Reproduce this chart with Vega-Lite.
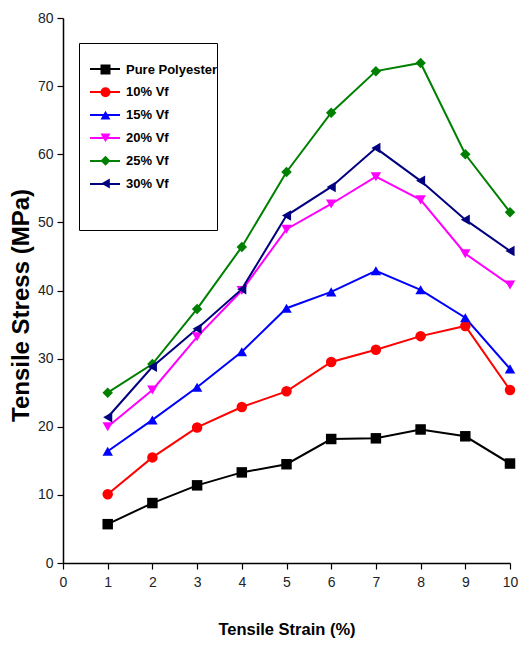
{
  "$schema": "https://vega.github.io/schema/vega-lite/v6.json",
  "width": 447,
  "height": 545,
  "autosize": {"type": "none"},
  "padding": {"left": 63, "top": 18, "right": 8, "bottom": 83},
  "background": "white",
  "config": {
    "view": {"stroke": null},
    "font": "Liberation Sans",
    "axis": {
      "grid": false,
      "domainColor": "black",
      "domainWidth": 1.5,
      "tickColor": "black",
      "tickWidth": 1.2,
      "tickSize": 6,
      "labelColor": "#222222",
      "labelFont": "Liberation Sans",
      "labelFontSize": 14,
      "titleFont": "Liberation Sans",
      "titleFontWeight": "bold",
      "titleColor": "black"
    }
  },
  "data": {
    "values": [
      {"x": 1, "y": 5.7, "series": "Pure Polyester"},
      {"x": 2, "y": 8.8, "series": "Pure Polyester"},
      {"x": 3, "y": 11.4, "series": "Pure Polyester"},
      {"x": 4, "y": 13.3, "series": "Pure Polyester"},
      {"x": 5, "y": 14.5, "series": "Pure Polyester"},
      {"x": 6, "y": 18.2, "series": "Pure Polyester"},
      {"x": 7, "y": 18.3, "series": "Pure Polyester"},
      {"x": 8, "y": 19.6, "series": "Pure Polyester"},
      {"x": 9, "y": 18.6, "series": "Pure Polyester"},
      {"x": 10, "y": 14.6, "series": "Pure Polyester"},
      {"x": 1, "y": 10.1, "series": "10% Vf"},
      {"x": 2, "y": 15.5, "series": "10% Vf"},
      {"x": 3, "y": 19.9, "series": "10% Vf"},
      {"x": 4, "y": 22.9, "series": "10% Vf"},
      {"x": 5, "y": 25.2, "series": "10% Vf"},
      {"x": 6, "y": 29.5, "series": "10% Vf"},
      {"x": 7, "y": 31.3, "series": "10% Vf"},
      {"x": 8, "y": 33.3, "series": "10% Vf"},
      {"x": 9, "y": 34.8, "series": "10% Vf"},
      {"x": 10, "y": 25.4, "series": "10% Vf"},
      {"x": 1, "y": 16.4, "series": "15% Vf"},
      {"x": 2, "y": 21.0, "series": "15% Vf"},
      {"x": 3, "y": 25.8, "series": "15% Vf"},
      {"x": 4, "y": 31.0, "series": "15% Vf"},
      {"x": 5, "y": 37.4, "series": "15% Vf"},
      {"x": 6, "y": 39.8, "series": "15% Vf"},
      {"x": 7, "y": 42.9, "series": "15% Vf"},
      {"x": 8, "y": 40.1, "series": "15% Vf"},
      {"x": 9, "y": 36.0, "series": "15% Vf"},
      {"x": 10, "y": 28.5, "series": "15% Vf"},
      {"x": 1, "y": 20.0, "series": "20% Vf"},
      {"x": 2, "y": 25.4, "series": "20% Vf"},
      {"x": 3, "y": 33.2, "series": "20% Vf"},
      {"x": 4, "y": 40.0, "series": "20% Vf"},
      {"x": 5, "y": 49.0, "series": "20% Vf"},
      {"x": 6, "y": 52.7, "series": "20% Vf"},
      {"x": 7, "y": 56.7, "series": "20% Vf"},
      {"x": 8, "y": 53.3, "series": "20% Vf"},
      {"x": 9, "y": 45.4, "series": "20% Vf"},
      {"x": 10, "y": 40.8, "series": "20% Vf"},
      {"x": 1, "y": 25.0, "series": "25% Vf"},
      {"x": 2, "y": 29.2, "series": "25% Vf"},
      {"x": 3, "y": 37.3, "series": "25% Vf"},
      {"x": 4, "y": 46.4, "series": "25% Vf"},
      {"x": 5, "y": 57.4, "series": "25% Vf"},
      {"x": 6, "y": 66.1, "series": "25% Vf"},
      {"x": 7, "y": 72.2, "series": "25% Vf"},
      {"x": 8, "y": 73.4, "series": "25% Vf"},
      {"x": 9, "y": 60.0, "series": "25% Vf"},
      {"x": 10, "y": 51.5, "series": "25% Vf"},
      {"x": 1, "y": 21.4, "series": "30% Vf"},
      {"x": 2, "y": 28.8, "series": "30% Vf"},
      {"x": 3, "y": 34.4, "series": "30% Vf"},
      {"x": 4, "y": 40.2, "series": "30% Vf"},
      {"x": 5, "y": 51.0, "series": "30% Vf"},
      {"x": 6, "y": 55.2, "series": "30% Vf"},
      {"x": 7, "y": 60.9, "series": "30% Vf"},
      {"x": 8, "y": 56.1, "series": "30% Vf"},
      {"x": 9, "y": 50.4, "series": "30% Vf"},
      {"x": 10, "y": 45.8, "series": "30% Vf"}
    ]
  },
  "encoding": {
    "x": {
      "field": "x",
      "type": "quantitative",
      "scale": {"domain": [0, 10], "nice": false, "zero": false},
      "axis": {
        "values": [0, 1, 2, 3, 4, 5, 6, 7, 8, 9, 10],
        "title": "Tensile Strain (%)",
        "titleFontSize": 16.5,
        "titlePadding": 32,
        "labelPadding": 6,
        "labelFlush": false
      }
    },
    "y": {
      "field": "y",
      "type": "quantitative",
      "scale": {"domain": [0, 80], "nice": false},
      "axis": {
        "values": [0, 10, 20, 30, 40, 50, 60, 70, 80],
        "title": "Tensile Stress (MPa)",
        "titleFontSize": 24,
        "titlePadding": 4,
        "titleY": 287,
        "labelPadding": 4
      }
    }
  },
  "layer": [
    {
      "mark": {"type": "line", "strokeWidth": 2},
      "encoding": {
        "color": {
          "field": "series",
          "type": "nominal",
          "scale": {
            "domain": ["Pure Polyester", "10% Vf", "15% Vf", "20% Vf", "25% Vf", "30% Vf"],
            "range": ["#000000", "#ff0000", "#0000ff", "#ff00ff", "#008000", "#000080"]
          },
          "legend": {
            "orient": "none",
            "legendX": 16,
            "legendY": 25,
            "padding": 10,
            "strokeColor": "black",
            "symbolType": "stroke",
            "symbolSize": 900,
            "symbolStrokeWidth": 2,
            "symbolOpacity": 1,
            "labelFont": "Liberation Sans",
            "labelFontSize": 13,
            "labelFontWeight": "bold",
            "labelOpacity": 0,
            "labelLimit": 83,
            "labelOffset": 5,
            "rowPadding": -8.2,
            "title": " ",
            "titleOrient": "bottom",
            "titleFontSize": 16,
            "titlePadding": 13
          }
        }
      }
    },
    {
      "mark": {"type": "point", "filled": true, "size": 110, "opacity": 1, "strokeWidth": 0},
      "encoding": {
        "fill": {
          "field": "series",
          "type": "nominal",
          "sort": null,
          "scale": {"range": ["#000000", "#ff0000", "#0000ff", "#ff00ff", "#008000", "#000080"]},
          "legend": {
            "orient": "none",
            "legendX": 16,
            "legendY": 25,
            "padding": 20,
            "title": null,
            "symbolSize": 100,
            "symbolStrokeWidth": 0,
            "symbolOpacity": 1,
            "labelFont": "Liberation Sans",
            "labelFontSize": 13,
            "labelFontWeight": "bold",
            "labelColor": "black",
            "labelOffset": 14,
            "labelLimit": 200,
            "rowPadding": 8.8
          }
        },
        "shape": {
          "field": "series",
          "type": "nominal",
          "sort": null,
          "scale": {"range": ["square", "circle", "triangle-up", "triangle-down", "diamond", "triangle-left"]}
        }
      }
    }
  ]
}
